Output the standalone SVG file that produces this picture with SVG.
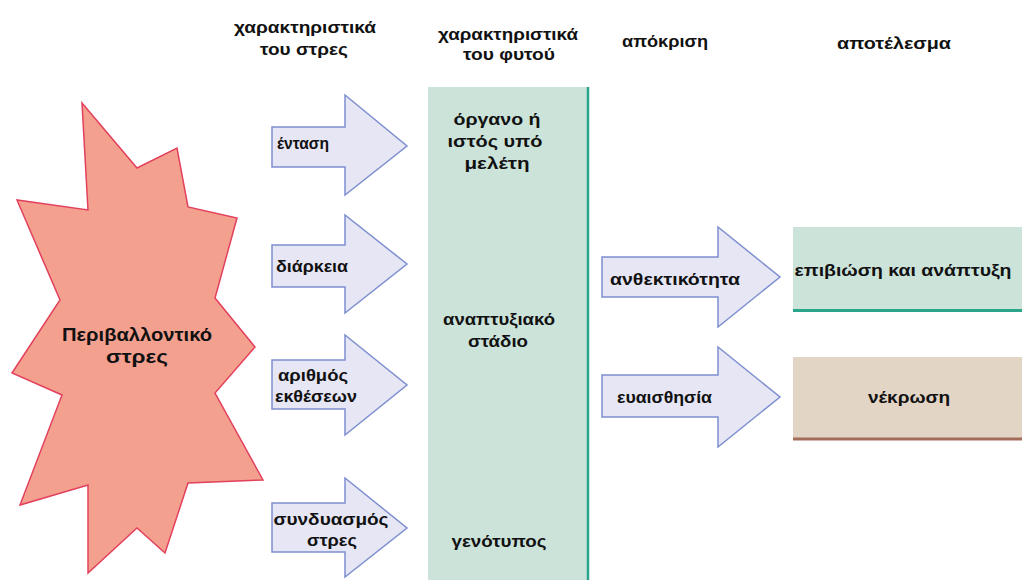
<svg xmlns="http://www.w3.org/2000/svg" width="1022" height="580" viewBox="0 0 1022 580">
<style>
text{font-family:"Liberation Sans","DejaVu Sans",sans-serif;font-weight:bold;fill:#111;}
.h{font-size:17px;text-anchor:middle;}
.t{font-size:16px;}
.c{font-size:16px;text-anchor:middle;}
.s{font-size:19px;text-anchor:middle;}
.arrow{fill:#e6e6f5;stroke:#7d8fcf;stroke-width:1.5;}
</style>
<rect width="1022" height="580" fill="#fff"/>
<g id="headers">
<text class="h" x="305" y="33" textLength="142" lengthAdjust="spacingAndGlyphs">χαρακτηριστικά</text>
<text class="h" x="304" y="55" textLength="88" lengthAdjust="spacingAndGlyphs">του στρες</text>
<text class="h" x="508" y="40" textLength="140" lengthAdjust="spacingAndGlyphs">χαρακτηριστικά</text>
<text class="h" x="509" y="60" textLength="92" lengthAdjust="spacingAndGlyphs">του φυτού</text>
<text class="h" x="665" y="47" textLength="86" lengthAdjust="spacingAndGlyphs">απόκριση</text>
<text class="h" x="894" y="49" textLength="114" lengthAdjust="spacingAndGlyphs">αποτέλεσμα</text>
</g>
<g id="stress">
<polygon points="82,103 137,168 177,148 188,207 237,218 215,298 255,347 215,393 263,480 188,483 165,553 137,528 88,573 88,485 20,505 62,395 12,373 60,300 17,200 88,210" fill="#f4a08f" stroke="#e2405c" stroke-width="1.5" stroke-linejoin="miter"/>
<text class="s" x="137" y="341" textLength="150" lengthAdjust="spacingAndGlyphs">Περιβαλλοντικό</text>
<text class="s" x="137" y="363" textLength="62" lengthAdjust="spacingAndGlyphs">στρες</text>
</g>
<g id="plant">
<rect x="428" y="87" width="160" height="493" fill="#cce3da"/>
<line x1="588" y1="87" x2="588" y2="580" stroke="#2aa58a" stroke-width="2.5"/>
<text class="c" x="497" y="125" textLength="87" lengthAdjust="spacingAndGlyphs">όργανο ή</text>
<text class="c" x="495" y="147" textLength="95" lengthAdjust="spacingAndGlyphs">ιστός υπό</text>
<text class="c" x="497" y="169" textLength="65" lengthAdjust="spacingAndGlyphs">μελέτη</text>
<text class="c" x="499" y="325" textLength="112" lengthAdjust="spacingAndGlyphs">αναπτυξιακό</text>
<text class="c" x="498" y="347" textLength="60" lengthAdjust="spacingAndGlyphs">στάδιο</text>
<text class="c" x="499" y="547" textLength="95" lengthAdjust="spacingAndGlyphs">γενότυπος</text>
</g>
<g id="intensity">
<path class="arrow" d="M272,127 H345 V95 L407,146 L345,195 V167 H272 Z"/>
<text class="t" x="277" y="149" textLength="52" lengthAdjust="spacingAndGlyphs">ένταση</text>
</g>
<g id="duration">
<path class="arrow" d="M272,245 H345 V215 L407,264 L345,313 V287 H272 Z"/>
<text class="t" x="276" y="272" textLength="72" lengthAdjust="spacingAndGlyphs">διάρκεια</text>
</g>
<g id="exposures">
<path class="arrow" d="M272,360 H345 V335 L407,385 L345,435 V409 H272 Z"/>
<text class="t" x="278" y="381" textLength="70" lengthAdjust="spacingAndGlyphs">αριθμός</text>
<text class="t" x="275" y="402" textLength="82" lengthAdjust="spacingAndGlyphs">εκθέσεων</text>
</g>
<g id="combination">
<path class="arrow" d="M272,503 H345 V478 L407,528 L345,577 V552 H272 Z"/>
<text class="c" x="331" y="525" textLength="115" lengthAdjust="spacingAndGlyphs">συνδυασμός</text>
<text class="c" x="332" y="546" textLength="50" lengthAdjust="spacingAndGlyphs">στρες</text>
</g>
<g id="resistance">
<path class="arrow" d="M602,257 H718 V227 L780,277 L718,327 V297 H602 Z"/>
<text class="t" x="610" y="285" textLength="130" lengthAdjust="spacingAndGlyphs">ανθεκτικότητα</text>
</g>
<g id="sensitivity">
<path class="arrow" d="M602,375 H718 V347 L780,397 L718,447 V417 H602 Z"/>
<text class="t" x="617" y="403" textLength="95" lengthAdjust="spacingAndGlyphs">ευαισθησία</text>
</g>
<g id="survival">
<rect x="793" y="227" width="229" height="84" fill="#cce3da"/>
<line x1="793" y1="310.5" x2="1022" y2="310.5" stroke="#2aa58a" stroke-width="3"/>
<text class="c" x="903" y="276" textLength="217" lengthAdjust="spacingAndGlyphs">επιβιώση και ανάπτυξη</text>
</g>
<g id="necrosis">
<rect x="793" y="357" width="229" height="83" fill="#e3d5c6"/>
<line x1="793" y1="439" x2="1022" y2="439" stroke="#a26e5a" stroke-width="3"/>
<text class="c" x="909" y="403" textLength="82" lengthAdjust="spacingAndGlyphs">νέκρωση</text>
</g>
<g id="connectors"></g>
</svg>
